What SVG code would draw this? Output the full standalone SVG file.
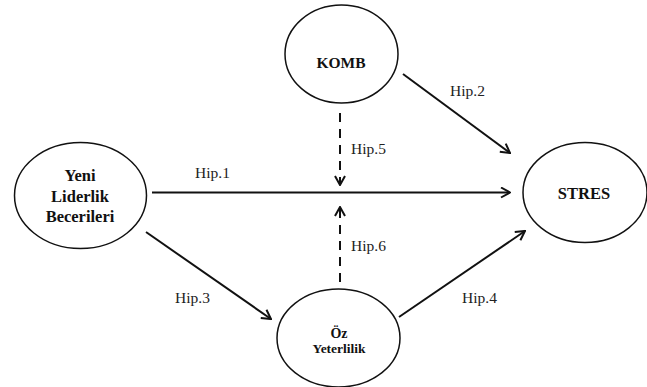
<svg xmlns="http://www.w3.org/2000/svg" width="647" height="387" viewBox="0 0 647 387">
<style>
.node ellipse{fill:#fff;stroke:#111;stroke-width:1.5}
.nt{font-family:'Liberation Serif','Times New Roman','DejaVu Serif',serif;font-weight:bold;fill:#111;text-anchor:middle}
.lbl{font-family:'Liberation Serif','Times New Roman','DejaVu Serif',serif;font-size:15.5px;fill:#222}
.edge{stroke:#111;stroke-width:2;fill:none;marker-end:url(#ah)}
.dash{stroke-dasharray:9,7}
</style>
<defs>
<marker id="ah" viewBox="0 0 12 12" refX="11" refY="6" markerWidth="12" markerHeight="12" markerUnits="userSpaceOnUse" orient="auto">
<path d="M2,1 L11,6 L2,11" fill="none" stroke="#111" stroke-width="2"/>
</marker>
</defs>
<rect width="647" height="387" fill="#fff"/>
<g id="connectors">
<line class="edge" x1="152" y1="192.5" x2="510" y2="192.5"/>
<line class="edge" x1="403" y1="74" x2="510" y2="153"/>
<line class="edge" x1="146" y1="232" x2="271" y2="319"/>
<line class="edge" x1="399" y1="317" x2="525" y2="231"/>
<line class="edge dash" x1="340" y1="113" x2="340" y2="185"/>
<line class="edge dash" x1="340" y1="282" x2="340" y2="207"/>
<text class="lbl" x="195" y="178">Hip.1</text>
<text class="lbl" x="450" y="96">Hip.2</text>
<text class="lbl" x="175" y="303">Hip.3</text>
<text class="lbl" x="462" y="303">Hip.4</text>
<text class="lbl" x="351" y="154">Hip.5</text>
<text class="lbl" x="351" y="251">Hip.6</text>
</g>
<g id="yeni" class="node">
<ellipse cx="80.5" cy="195.5" rx="66" ry="53"/>
<text class="nt" font-size="16.5" x="80" y="181">Yeni</text>
<text class="nt" font-size="16.5" x="80" y="202">Liderlik</text>
<text class="nt" font-size="16.5" x="80" y="222">Becerileri</text>
</g>
<g id="komb" class="node">
<ellipse cx="341.5" cy="54" rx="56.5" ry="49"/>
<text class="nt" font-size="15.5" x="341" y="68">KOMB</text>
</g>
<g id="oz" class="node">
<ellipse cx="338.5" cy="338" rx="61.5" ry="49"/>
<text class="nt" font-size="14" x="339" y="338">Öz</text>
<text class="nt" font-size="13.5" x="339" y="353">Yeterlilik</text>
</g>
<g id="stres" class="node">
<ellipse cx="585" cy="192.5" rx="62" ry="50"/>
<text class="nt" font-size="16.5" x="584" y="199">STRES</text>
</g>
</svg>
